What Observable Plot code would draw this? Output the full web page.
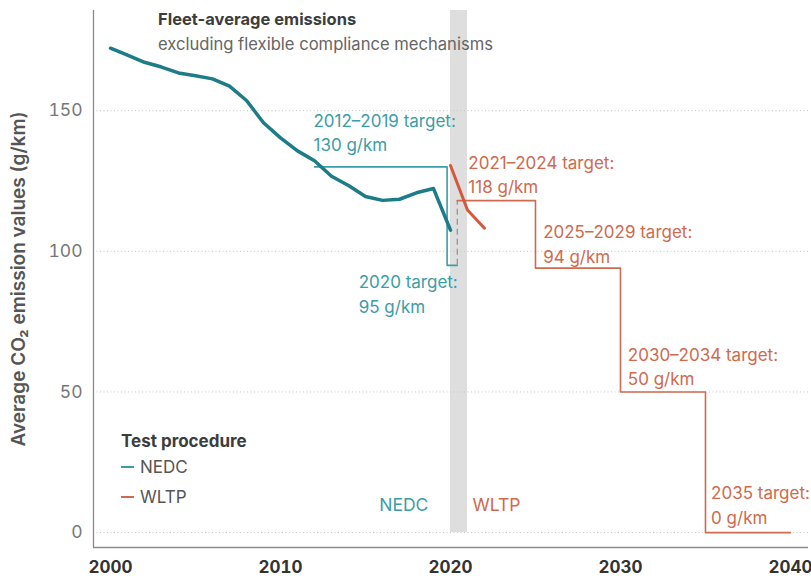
<!DOCTYPE html>
<html>
<head>
<meta charset="utf-8">
<script src="https://cdn.jsdelivr.net/npm/d3@7"></script>
<script src="https://cdn.jsdelivr.net/npm/@observablehq/plot@0.6"></script>
<style>
  body { margin: 0; background: #fff; font-family: Inter, "Open Sans", sans-serif; }
  #wrap { position: relative; width: 811px; height: 580px; }
  .title { position: absolute; left: 158px; top: 9px; font-size: 16.5px; font-weight: 700; color: #3d3d3d; }
  .subtitle { position: absolute; left: 158px; top: 34px; font-size: 16.6px; color: #666; }
  .legend { position: absolute; left: 121px; top: 430px; font-size: 17px; color: #555; }
  .legend .lt { font-weight: 700; color: #3d3d3d; margin-bottom: 0px; height: 22px; line-height: 22px; }
  .legend .row { display: flex; align-items: center; height: 30px; }
  .legend .sw { width: 13px; height: 2.5px; margin-right: 6px; }
</style>
</head>
<body>
<div id="wrap"></div>
<script>
// ---- data ----
const nedcYears = [2000, 2001, 2002, 2003, 2004, 2005, 2006, 2007, 2008, 2009, 2010,
                   2011, 2012, 2013, 2014, 2015, 2016, 2017, 2018, 2019, 2020];
const nedcValues = [172.2, 169.7, 167.2, 165.5, 163.4, 162.4, 161.3, 158.7, 153.6, 145.7, 140.3,
                    135.7, 132.2, 126.7, 123.4, 119.5, 118.1, 118.5, 120.8, 122.3, 107.5];
const wltpYears = [2020, 2021, 2022];
const wltpValues = [130.5, 114.7, 108.2];

// targets as step breakpoints (start year, value)
const nedcTargetYears = [2012, 2019.8, 2020.4];
const nedcTargetValues = [130, 95, 95];
const wltpTargetYears = [2020.4, 2025, 2030, 2035, 2040];
const wltpTargetValues = [118, 94, 50, 0, 0];

const targetLabels = ["2012–2019 target:\n130 g/km", "2020 target:\n95 g/km",
                      "2021–2024 target:\n118 g/km", "2025–2029 target:\n94 g/km",
                      "2030–2034 target:\n50 g/km", "2035 target:\n0 g/km"];
const xTicks = [2000, 2010, 2020, 2030, 2040];
const yTicks = [0, 50, 100, 150];
const yLabel = "Average CO₂ emission values (g/km)";
const transitionYears = [2020, 2021];

// ---- colours ----
const TEAL = "#1c7c87", TEAL_L = "#3b9da6", ORANGE = "#d4583a", ORANGE_L = "#cf6a4e";

const nedc = nedcYears.map((x, i) => ({x, y: nedcValues[i]}));
const wltp = wltpYears.map((x, i) => ({x, y: wltpValues[i]}));
const nedcT = nedcTargetYears.map((x, i) => ({x, y: nedcTargetValues[i]}));
const wltpT = wltpTargetYears.map((x, i) => ({x, y: wltpTargetValues[i]}));

const xDomain = [1999, 2041.06];
const yDomain = [-5.3, 185.6];

const labelPos = [
  {x: 2011.94, y: 142.7, c: TEAL_L},
  {x: 2014.6, y: 85.3, c: TEAL_L},
  {x: 2021.05, y: 127.8, c: ORANGE_L},
  {x: 2025.45, y: 103.1, c: ORANGE_L},
  {x: 2030.43, y: 59.5, c: ORANGE_L},
  {x: 2035.33, y: 10.2, c: ORANGE_L}
].map((d, i) => ({...d, t: targetLabels[i]}));

const chart = Plot.plot({
  width: 811,
  height: 580,
  marginLeft: 93,
  marginRight: 3,
  marginTop: 10,
  marginBottom: 33,
  style: {fontFamily: "Inter, 'Open Sans', sans-serif", background: "#fff", overflow: "visible"},
  x: {domain: xDomain, axis: null},
  y: {domain: yDomain, axis: null},
  marks: [
    Plot.rect([transitionYears], {x1: d => d[0], x2: d => d[1], y1: 0, y2: yDomain[1], fill: "#dedede"}),
    Plot.gridY(yTicks, {stroke: "#c4c4c4", strokeOpacity: 1, strokeDasharray: "1,2.5", strokeWidth: 1}),
    Plot.ruleX([xDomain[0]], {stroke: "#8a8a8a", strokeWidth: 1.3}),
    Plot.ruleY([yDomain[0]], {stroke: "#8a8a8a", strokeWidth: 1.3}),
    Plot.axisY(yTicks, {tickSize: 0, tickPadding: 11, fontSize: 17.5, fill: "#777", label: null}),
    Plot.axisX(xTicks, {tickSize: 0, tickPadding: 13, fontSize: 17, fontWeight: 700, fill: "#333", tickFormat: "d", label: null}),
    Plot.text([yLabel], {frameAnchor: "left", rotate: -90, dx: -75, fontSize: 19, fontWeight: 600, fill: "#555", textAnchor: "middle"}),
    // targets
    Plot.line(nedcT, {x: "x", y: "y", curve: "step-after", stroke: TEAL_L, strokeWidth: 1.6}),
    Plot.ruleX([nedcTargetYears[2]], {y1: nedcTargetValues[2], y2: wltpTargetValues[0], stroke: "#9a9a9a", strokeWidth: 1.4, strokeDasharray: "6,4"}),
    Plot.line(wltpT, {x: "x", y: "y", curve: "step-after", stroke: ORANGE_L, strokeWidth: 1.6}),
    // emissions
    Plot.line(nedc, {x: "x", y: "y", stroke: TEAL, strokeWidth: 3.5, strokeLinejoin: "round", strokeLinecap: "round"}),
    Plot.line(wltp, {x: "x", y: "y", stroke: ORANGE, strokeWidth: 3, strokeLinejoin: "round", strokeLinecap: "round"}),
    // labels
    Plot.text(labelPos, {x: "x", y: "y", text: "t", fill: "c", textAnchor: "start", lineAnchor: "middle", lineHeight: 1.45, fontSize: 17}),
    Plot.text(["NEDC"], {x: 2018.7, y: 9.6, textAnchor: "end", fill: TEAL_L, fontSize: 17.5}),
    Plot.text(["WLTP"], {x: 2021.3, y: 9.6, textAnchor: "start", fill: ORANGE_L, fontSize: 17.5})
  ]
});

const wrap = document.getElementById("wrap");
wrap.appendChild(chart);
wrap.insertAdjacentHTML("beforeend", `
  <div class="title">Fleet-average emissions</div>
  <div class="subtitle">excluding flexible compliance mechanisms</div>
  <div class="legend">
    <div class="lt">Test procedure</div>
    <div class="row"><div class="sw" style="background:${TEAL_L}"></div>NEDC</div>
    <div class="row"><div class="sw" style="background:${ORANGE_L}"></div>WLTP</div>
  </div>`);
</script>
</body>
</html>
